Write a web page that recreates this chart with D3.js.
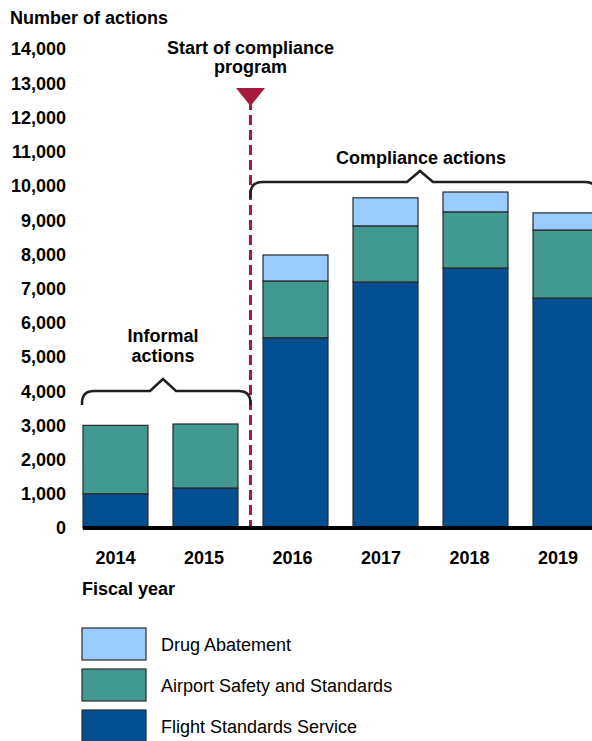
<!DOCTYPE html>
<html>
<head>
<meta charset="utf-8">
<script src="https://cdn.jsdelivr.net/npm/d3@7"></script>
<style>
  body { margin: 0; background: #fff; }
  text { font-family: "Liberation Sans", Arial, sans-serif; fill: #000; }
  .bold { font-weight: bold; }
</style>
</head>
<body>
<div class="chart"></div>
<script>
// Data
var years = ["2014", "2015", "2016", "2017", "2018", "2019"];
var flightStandards = [1000, 1170, 5560, 7190, 7600, 6720];
var airportSafety = [2000, 1870, 1660, 1640, 1640, 1990];
var drugAbatement = [0, 0, 760, 820, 580, 500];
var seriesNames = ["Flight Standards Service", "Airport Safety and Standards", "Drug Abatement"];
var seriesColors = ["#044f91", "#429990", "#99ccff"];
var yTicks = d3.range(0, 14001, 1000);

var width = 592,
    height = 741;

var svg = d3.select(".chart")
            .append("svg")
            .attr("width", width)
            .attr("height", height);

// table for the stack
var table = years.map(function(y, i) {
  return {
    year: y,
    "Flight Standards Service": flightStandards[i],
    "Airport Safety and Standards": airportSafety[i],
    "Drug Abatement": drugAbatement[i]
  };
});
var stacked = d3.stack().keys(seriesNames)(table);

//Scales
var x = d3.scaleBand().domain(years).range([83, 598]).paddingInner(0.278).paddingOuter(0);
var y = d3.scaleLinear().domain([0, 14000]).range([528, 49]);
var color = d3.scaleOrdinal().domain(seriesNames).range(seriesColors);

// Axis title
svg.append("text").attr("class", "bold")
   .attr("x", 10).attr("y", 24)
   .style("font-size", "18px")
   .text("Number of actions");

// Y tick labels
svg.selectAll(".ytick")
   .data(yTicks)
   .enter()
   .append("text")
   .attr("class", "ytick bold")
   .attr("x", 66)
   .attr("y", function(d) { return y(d); })
   .attr("dy", "0.36em")
   .attr("text-anchor", "end")
   .style("font-size", "18px")
   .text(d3.format(","));

// Bars
svg.selectAll(".layer")
   .data(stacked)
   .enter()
   .append("g")
   .attr("class", "layer")
   .attr("fill", function(d) { return color(d.key); })
   .selectAll("rect")
   .data(function(d) { return d.filter(function(p) { return p[1] > p[0]; }); })
   .enter()
   .append("rect")
   .attr("x", function(d) { return x(d.data.year); })
   .attr("y", function(d) { return y(d[1]); })
   .attr("width", x.bandwidth())
   .attr("height", function(d) { return y(d[0]) - y(d[1]); })
   .attr("stroke", "#2a2a2a")
   .attr("stroke-width", 1.2);

// Baseline
svg.append("line")
   .attr("x1", x("2014")).attr("x2", width)
   .attr("y1", y(0)).attr("y2", y(0))
   .attr("stroke", "#000")
   .attr("stroke-width", 4);

// X labels
svg.selectAll(".xtick")
   .data(years)
   .enter()
   .append("text")
   .attr("class", "xtick bold")
   .attr("x", function(d, i) { return x(d) + x.bandwidth() / 2 - i * 1.5; })
   .attr("y", 564)
   .attr("text-anchor", "middle")
   .style("font-size", "18px")
   .text(function(d) { return d; });

svg.append("text").attr("class", "bold")
   .attr("x", 82).attr("y", 595)
   .style("font-size", "18px")
   .text("Fiscal year");

// Program start marker
var startX = (x("2015") + x.bandwidth() + x("2016")) / 2;
var markColor = "#a61b3d";

svg.append("line")
   .attr("x1", startX).attr("x2", startX)
   .attr("y1", 100).attr("y2", y(0) - 2)
   .attr("stroke", markColor)
   .attr("stroke-width", 3)
   .attr("stroke-dasharray", "10,5");

svg.append("path")
   .attr("d", "M" + (startX - 14.5) + ",88 L" + (startX + 14.5) + ",88 L" + startX + ",106 Z")
   .attr("fill", markColor);

svg.append("text").attr("class", "bold")
   .attr("text-anchor", "middle")
   .style("font-size", "18px")
   .selectAll("tspan")
   .data(["Start of compliance", "program"])
   .enter()
   .append("tspan")
   .attr("x", startX)
   .attr("y", function(d, i) { return 54 + i * 19; })
   .text(function(d) { return d; });

// Curly braces
function brace(x0, x1, xm, yTop, yEnd, peak) {
  var r = 12;
  return "M" + x0 + "," + yEnd +
         " L" + x0 + "," + (yTop + r) +
         " Q" + x0 + "," + yTop + " " + (x0 + r) + "," + yTop +
         " L" + (xm - 13) + "," + yTop +
         " L" + xm + "," + (yTop - peak) +
         " L" + (xm + 13) + "," + yTop +
         " L" + (x1 - r) + "," + yTop +
         " Q" + x1 + "," + yTop + " " + x1 + "," + (yTop + r) +
         " L" + x1 + "," + yEnd;
}

svg.append("path")
   .attr("d", brace(x("2014") - 1, startX, 163, 391, 405, 12))
   .attr("fill", "none")
   .attr("stroke", "#231f20")
   .attr("stroke-width", 2.5);

svg.append("path")
   .attr("d", brace(startX, 597, 420, 182, 198, 11))
   .attr("fill", "none")
   .attr("stroke", "#231f20")
   .attr("stroke-width", 2.5);

svg.append("text").attr("class", "bold")
   .attr("text-anchor", "middle")
   .style("font-size", "18px")
   .selectAll("tspan")
   .data(["Informal", "actions"])
   .enter()
   .append("tspan")
   .attr("x", 163)
   .attr("y", function(d, i) { return 342 + i * 20; })
   .text(function(d) { return d; });

svg.append("text").attr("class", "bold")
   .attr("x", 421).attr("y", 164)
   .attr("text-anchor", "middle")
   .style("font-size", "18px")
   .text("Compliance actions");

// Legend
var legendOrder = seriesNames.slice().reverse();
var legend = svg.selectAll(".legend")
   .data(legendOrder)
   .enter()
   .append("g")
   .attr("class", "legend")
   .attr("transform", function(d, i) { return "translate(82," + (628 + i * 41) + ")"; });

legend.append("rect")
   .attr("width", 64).attr("height", 32)
   .attr("fill", function(d) { return color(d); })
   .attr("stroke", "#2a2a2a")
   .attr("stroke-width", 1.2);

legend.append("text")
   .attr("x", 79).attr("y", 23)
   .style("font-size", "18px")
   .text(function(d) { return d; });
</script>
</body>
</html>
